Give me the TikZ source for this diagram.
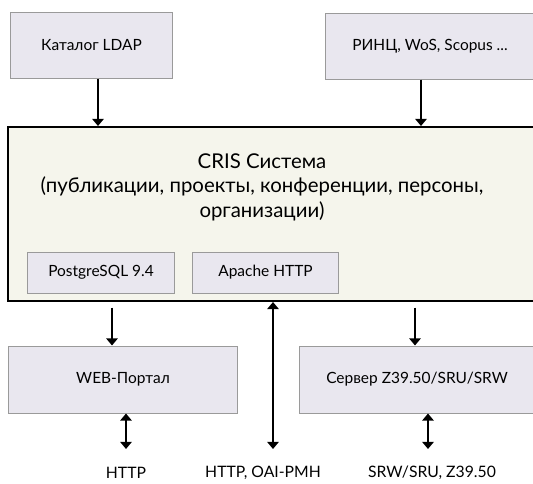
\documentclass[tikz,border=0pt]{standalone}
\usepackage{fontspec}
\setmainfont{Lato}
\usetikzlibrary{arrows.meta}

\definecolor{boxfill}{HTML}{E9E7EF}
\definecolor{boxline}{HTML}{9A9A9A}
\definecolor{sysfill}{HTML}{F5F5EC}

\begin{document}
\begin{tikzpicture}[x=0.025cm, y=-0.025cm,
    box/.style={draw=boxline, fill=boxfill, line width=0.7pt, inner sep=0pt,
      font=\fontsize{11}{13}\selectfont},
    sysbox/.style={draw=black, fill=sysfill, line width=1.4pt, inner sep=0pt},
    arr/.style={line width=1.2pt, -{Triangle[width=8pt,length=5pt]}},
    darr/.style={line width=1.2pt,
      {Triangle[width=8pt,length=5pt]}-{Triangle[width=8pt,length=5pt]}},
    lbl/.style={inner sep=0pt, font=\fontsize{11.2}{13}\selectfont}]
  \useasboundingbox (0,0) rectangle (533,483);
  \clip (0,0) rectangle (533,483);

  % sources
  \node[box, minimum width=4.025cm, minimum height=1.65cm] (ldap) at (91.5,45) {Каталог LDAP};
  \node[box, minimum width=5.2cm, minimum height=1.65cm] (rinc) at (430,46) {РИНЦ, WoS, Scopus ...};

  % CRIS
  \node[sysbox, minimum width=13.2cm, minimum height=4.35cm] (cris) at (272,214) {};
  \node[align=center, font=\fontsize{14.5}{17.5}\selectfont] (title) at (262,187)
    {CRIS Система\\(публикации, проекты, конференции, персоны,\\организации)};
  \node[box, minimum width=3.65cm, minimum height=1.025cm] (pg) at (101,272.5) {PostgreSQL 9.4};
  \node[box, minimum width=3.625cm, minimum height=1.025cm] (apache) at (265.5,272.5) {Apache HTTP};

  % services
  \node[box, minimum width=5.7cm, minimum height=1.675cm] (web) at (123,379.5) {WEB-Портал};
  \node[box, minimum width=5.85cm, minimum height=1.675cm] (server) at (417,379.5) {Сервер Z39.50/SRU/SRW};

  % protocols
  \node[lbl] (http) at (126,473) {HTTP};
  \node[lbl] (oai) at (263,473) {HTTP, OAI-PMH};
  \node[lbl] (srw) at (432,473) {SRW/SRU, Z39.50};

  \coordinate (c1) at (98,0);
  \coordinate (c2) at (421,0);
  \coordinate (c3) at (112,0);
  \coordinate (c4) at (273,0);
  \coordinate (c5) at (415,0);
  \coordinate (c6) at (126,0);
  \coordinate (c7) at (428,0);
  \coordinate (ends) at (0,449);

  \draw[arr] (ldap.south -| c1) -- (cris.north -| c1);
  \draw[arr] (rinc.south -| c2) -- (cris.north -| c2);
  \draw[arr, shorten <=4pt] (cris.south -| c3) -- (web.north -| c3);
  \draw[arr, shorten <=4pt] (cris.south -| c5) -- (server.north -| c5);
  \draw[darr] (cris.south -| c4) -- (ends -| c4);
  \draw[darr] (web.south -| c6) -- (ends -| c6);
  \draw[darr] (server.south -| c7) -- (ends -| c7);
\end{tikzpicture}
\end{document}
